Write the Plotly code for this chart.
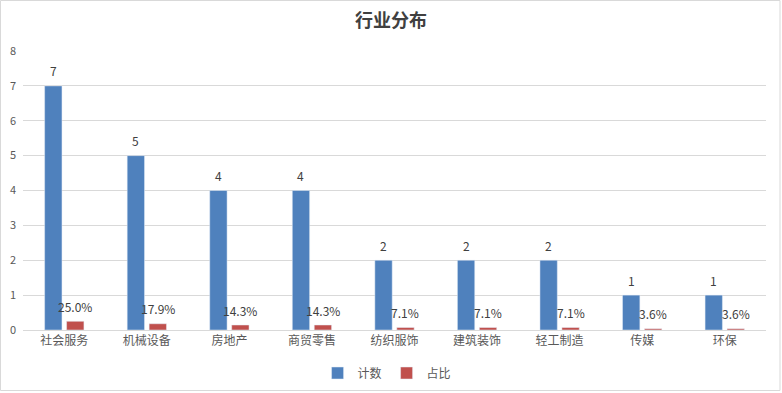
import plotly.graph_objects as go

categories = ["社会服务", "机械设备", "房地产", "商贸零售", "纺织服饰", "建筑装饰", "轻工制造", "传媒", "环保"]
counts = [7, 5, 4, 4, 2, 2, 2, 1, 1]
shares = [0.250, 0.179, 0.143, 0.143, 0.071, 0.071, 0.071, 0.036, 0.036]
y_ticks = [0, 1, 2, 3, 4, 5, 6, 7, 8]

FONT = "Noto Sans CJK SC, Microsoft YaHei, sans-serif"
TXT = "#404040"

BAR_W = 0.21
OFF_BLUE = -0.238
OFF_RED = 0.028

fig = go.Figure()
fig.add_trace(go.Bar(
    x=categories, y=counts, name="计数", marker_color="#4F81BD",
    width=BAR_W, offset=OFF_BLUE,
))
fig.add_trace(go.Bar(
    x=categories, y=shares, name="占比", marker_color="#C0504D",
    width=BAR_W, offset=OFF_RED,
))

annotations = []
for i, v in enumerate(counts):
    annotations.append(dict(x=i + OFF_BLUE + BAR_W / 2, y=v, xref="x", yref="y", text=str(v),
                            showarrow=False, yshift=15, yanchor="middle",
                            font=dict(size=12, color=TXT, family=FONT)))
for i, v in enumerate(shares):
    annotations.append(dict(x=i + OFF_RED + BAR_W / 2, y=v, xref="x", yref="y", text=f"{v*100:.1f}%",
                            showarrow=False, yshift=15, yanchor="middle",
                            font=dict(size=12, color=TXT, family=FONT)))

W, H = 782, 393
ml, mr, mt, mb = 23, 16, 51, 63
pw, ph = W - ml - mr, H - mt - mb

fig.update_layout(
    width=W, height=H,
    margin=dict(l=ml, r=mr, t=mt, b=mb, autoexpand=False),
    paper_bgcolor="white", plot_bgcolor="white",
    barmode="overlay",
    title=dict(text="<b>行业分布</b>", x=0.5, xanchor="center", y=1 - 21 / H, yanchor="middle",
               font=dict(size=18, color=TXT, family=FONT, weight=500)),
    font=dict(family=FONT, color="#595959", size=12),
    legend=dict(orientation="h", x=0.49, xanchor="center", y=-(373 - (H - mb)) / ph, yanchor="middle",
                font=dict(size=12, color="#595959", family=FONT), itemwidth=30,
                traceorder="normal"),
    annotations=annotations,
    shapes=[dict(type="rect", xref="paper", yref="paper",
                 x0=-ml / pw + 0.5 / pw, x1=1 + (mr - 2) / pw,
                 y0=-(mb - 2.5) / ph, y1=1 + (mt - 0.5) / ph,
                 line=dict(color="#D9D9D9", width=1), fillcolor="rgba(0,0,0,0)", layer="below")],
)
fig.update_yaxes(range=[0, 8], tickvals=y_ticks, showgrid=True, gridcolor="#D9D9D9", gridwidth=1,
                 zeroline=False, showline=False, ticks="", automargin=False,
                 tickfont=dict(size=11, color="#595959"), ticklabelstandoff=6)
fig.update_xaxes(showline=True, linecolor="#D9D9D9", linewidth=1, ticks="", automargin=False,
                 range=[-0.5, len(categories) - 0.5],
                 tickfont=dict(size=12, color="#595959"))

fig.write_html("out.html", config={"displayModeBar": False},
               post_script="document.body.style.margin='0';document.body.style.padding='0';document.body.style.overflow='hidden';")
